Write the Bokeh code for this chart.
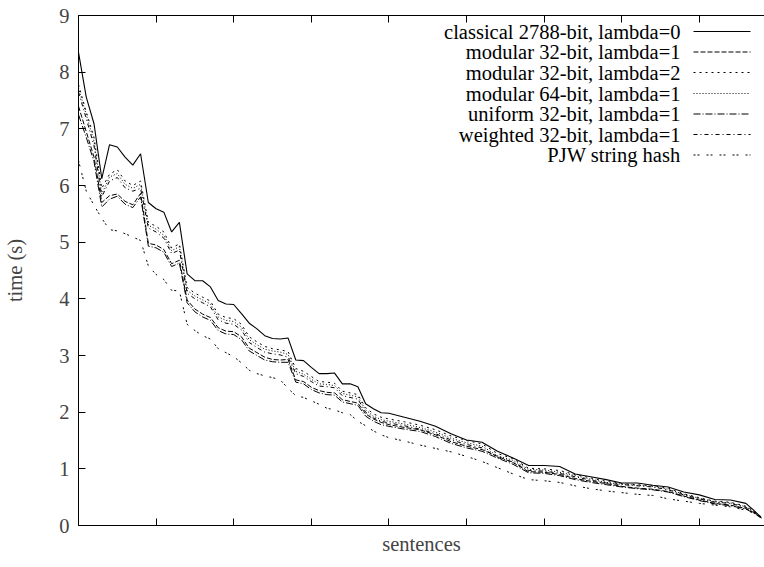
from bokeh.plotting import figure
from bokeh.models import LinearAxis, FixedTicker, Label, Arrow, Range1d
from bokeh.embed import file_html
from bokeh.resources import INLINE

# sentence positions (x) and running times (s)
sentences = list(range(0, 410, 10)) + list(range(420, 880, 20)) + [870, 880]

classical_2788 = [8.35, 7.56, 7.09, 6.12, 6.72, 6.68, 6.50, 6.36, 6.56, 5.70, 5.59, 5.53, 5.18, 5.35, 4.44, 4.32, 4.32, 4.21, 3.97, 3.91, 3.90, 3.74, 3.57, 3.47, 3.35, 3.30, 3.29, 3.31, 2.92, 2.91, 2.79, 2.68, 2.68, 2.69, 2.50, 2.50, 2.45, 2.15, 2.06, 1.99, 1.98,
                  1.91, 1.84, 1.75, 1.62, 1.51, 1.47, 1.31, 1.19, 1.06, 1.06, 1.04, 0.91, 0.86, 0.81, 0.75, 0.75, 0.71, 0.68, 0.59, 0.54, 0.46, 0.45, 0.39,
                  0.27, 0.14]
modular32_l1 = [7.40, 6.95, 6.50, 5.70, 5.82, 5.85, 5.72, 5.66, 5.86, 4.98, 4.95, 4.87, 4.62, 4.68, 3.98, 3.82, 3.73, 3.67, 3.49, 3.43, 3.42, 3.33, 3.13, 3.05, 2.97, 2.93, 2.92, 2.93, 2.57, 2.54, 2.44, 2.38, 2.35, 2.34, 2.22, 2.19, 2.16, 1.97, 1.88, 1.82, 1.78,
                1.73, 1.69, 1.60, 1.48, 1.40, 1.34, 1.22, 1.11, 0.95, 0.94, 0.90, 0.83, 0.78, 0.74, 0.69, 0.66, 0.64, 0.60, 0.52, 0.45, 0.39, 0.36, 0.30,
                0.23, 0.13]
modular32_l2 = [7.78, 7.30, 6.85, 5.95, 6.20, 6.28, 6.08, 6.00, 6.08, 5.35, 5.28, 5.18, 4.90, 4.97, 4.20, 4.10, 4.03, 3.96, 3.73, 3.67, 3.65, 3.55, 3.33, 3.24, 3.16, 3.12, 3.10, 3.07, 2.77, 2.72, 2.63, 2.54, 2.53, 2.51, 2.37, 2.34, 2.31, 2.08, 1.97, 1.91, 1.88,
                1.83, 1.77, 1.69, 1.58, 1.50, 1.44, 1.27, 1.18, 1.01, 1.00, 0.97, 0.90, 0.84, 0.78, 0.74, 0.72, 0.70, 0.66, 0.56, 0.49, 0.43, 0.41, 0.34,
                0.26, 0.15]
modular64_l1 = [7.72, 7.25, 6.78, 5.85, 6.15, 6.21, 6.02, 5.95, 6.02, 5.30, 5.23, 5.12, 4.85, 4.92, 4.15, 4.05, 3.98, 3.91, 3.68, 3.62, 3.60, 3.50, 3.28, 3.19, 3.11, 3.08, 3.06, 3.02, 2.72, 2.67, 2.58, 2.50, 2.49, 2.47, 2.33, 2.30, 2.27, 2.04, 1.93, 1.87, 1.84,
                1.79, 1.73, 1.65, 1.54, 1.46, 1.40, 1.23, 1.15, 0.99, 0.98, 0.94, 0.88, 0.82, 0.76, 0.73, 0.71, 0.69, 0.64, 0.55, 0.48, 0.42, 0.40, 0.33,
                0.25, 0.14]
uniform32_l1 = [7.25, 6.85, 6.42, 5.62, 5.76, 5.81, 5.67, 5.61, 5.80, 4.93, 4.90, 4.82, 4.57, 4.63, 3.93, 3.77, 3.68, 3.62, 3.44, 3.38, 3.37, 3.28, 3.08, 3.00, 2.92, 2.89, 2.88, 2.88, 2.53, 2.50, 2.40, 2.34, 2.31, 2.30, 2.18, 2.15, 2.12, 1.93, 1.84, 1.78, 1.75,
                1.70, 1.66, 1.57, 1.45, 1.37, 1.31, 1.19, 1.08, 0.93, 0.92, 0.88, 0.81, 0.76, 0.72, 0.68, 0.65, 0.63, 0.59, 0.51, 0.44, 0.38, 0.35, 0.29,
                0.22, 0.13]
weighted32_l1 = [7.65, 7.18, 6.70, 5.80, 6.08, 6.14, 5.96, 5.90, 5.95, 5.25, 5.18, 5.07, 4.80, 4.86, 4.10, 4.00, 3.93, 3.86, 3.63, 3.57, 3.55, 3.45, 3.23, 3.14, 3.06, 3.03, 3.01, 2.97, 2.68, 2.63, 2.54, 2.46, 2.45, 2.43, 2.29, 2.26, 2.23, 2.00, 1.90, 1.84, 1.81,
                 1.76, 1.70, 1.62, 1.51, 1.43, 1.37, 1.20, 1.12, 0.97, 0.96, 0.92, 0.86, 0.80, 0.75, 0.72, 0.70, 0.68, 0.63, 0.54, 0.47, 0.41, 0.39, 0.32,
                 0.24, 0.14]
pjw_hash = [6.44, 5.90, 5.65, 5.42, 5.22, 5.20, 5.15, 5.09, 5.03, 4.58, 4.43, 4.34, 4.15, 4.14, 3.55, 3.44, 3.35, 3.29, 3.12, 3.05, 2.98, 2.87, 2.74, 2.68, 2.64, 2.61, 2.57, 2.42, 2.29, 2.26, 2.20, 2.14, 2.07, 2.04, 1.99, 1.96, 1.84, 1.76, 1.67, 1.60, 1.55,
            1.49, 1.42, 1.36, 1.30, 1.22, 1.13, 1.02, 0.91, 0.81, 0.79, 0.76, 0.70, 0.65, 0.61, 0.58, 0.55, 0.53, 0.47, 0.43, 0.39, 0.36, 0.33, 0.27,
            0.22, 0.17]

series_labels = ["classical 2788-bit, lambda=0", "modular 32-bit, lambda=1", "modular 32-bit, lambda=2",
                 "modular 64-bit, lambda=1", "uniform 32-bit, lambda=1", "weighted 32-bit, lambda=1", "PJW string hash"]
series_values = [classical_2788, modular32_l1, modular32_l2, modular64_l1, uniform32_l1, weighted32_l1, pjw_hash]
series_dashes = ["solid", "5 2", "2 4", "1 2", "7 2 1 2", "4 3 1 3", "2 2 2 7"]

x_ticks = [0, 100, 200, 300, 400, 500, 600, 700, 800]
y_ticks = [0, 1, 2, 3, 4, 5, 6, 7, 8, 9]

FONT = "'Liberation Serif', 'Times New Roman', serif"
FS = "20.5px"

p = figure(width=764, height=562, x_range=Range1d(0, 884), y_range=Range1d(0, 9),
           output_backend="svg", toolbar_location=None,
           min_border_left=78, min_border_right=0, min_border_top=15, min_border_bottom=37)
p.outline_line_color = None
p.xgrid.visible = False
p.ygrid.visible = False
p.background_fill_color = "white"
p.border_fill_color = "white"

for vals, dash in zip(series_values, series_dashes):
    p.line(sentences, vals, line_color="black", line_width=1.1 if dash == "solid" else 1.0, line_dash=dash)

# bottom axis (ticks only, no numbers)
xa = p.xaxis[0]
xa.ticker = FixedTicker(ticks=x_ticks)
xa.major_label_text_color = None
xa.major_label_standoff = 0
xa.major_tick_in = 7
xa.major_tick_out = 0
xa.minor_tick_line_color = None
xa.axis_label = "sentences"
xa.axis_label_text_font = FONT
xa.axis_label_text_font_size = FS
xa.axis_label_text_font_style = "normal"
xa.axis_label_standoff = 7
xa.axis_line_color = "black"

# left axis
ya = p.yaxis[0]
ya.ticker = FixedTicker(ticks=y_ticks)
ya.major_label_text_font = FONT
ya.major_label_text_font_size = FS
ya.major_label_standoff = 9
ya.major_tick_in = 7
ya.major_tick_out = 0
ya.minor_tick_line_color = None
ya.axis_label = "time (s)"
ya.axis_label_text_font = FONT
ya.axis_label_text_font_size = FS
ya.axis_label_text_font_style = "normal"
ya.axis_label_standoff = 30

# top border with mirrored ticks
ta = LinearAxis(ticker=FixedTicker(ticks=x_ticks), major_label_text_color=None,
                major_label_standoff=0, major_tick_in=7, major_tick_out=0,
                minor_tick_line_color=None, axis_line_color="black")
p.add_layout(ta, "above")

# legend (gnuplot style: right-aligned text, sample to the right)
row_y = [494, 473.5, 453, 432, 411.5, 391, 370.5]
for lab, dash, yy in zip(series_labels, series_dashes, row_y):
    p.add_layout(Label(x=602, y=yy, x_units="screen", y_units="screen", text=lab,
                       text_align="right", text_baseline="middle",
                       text_font=FONT, text_font_size=FS, text_color="black"))
    p.add_layout(Arrow(end=None, x_start=615, y_start=yy, x_end=672, y_end=yy,
                       start_units="screen", end_units="screen",
                       line_color="black", line_width=1.0, line_dash=dash))

open("out.html", "w").write(file_html(p, INLINE))
